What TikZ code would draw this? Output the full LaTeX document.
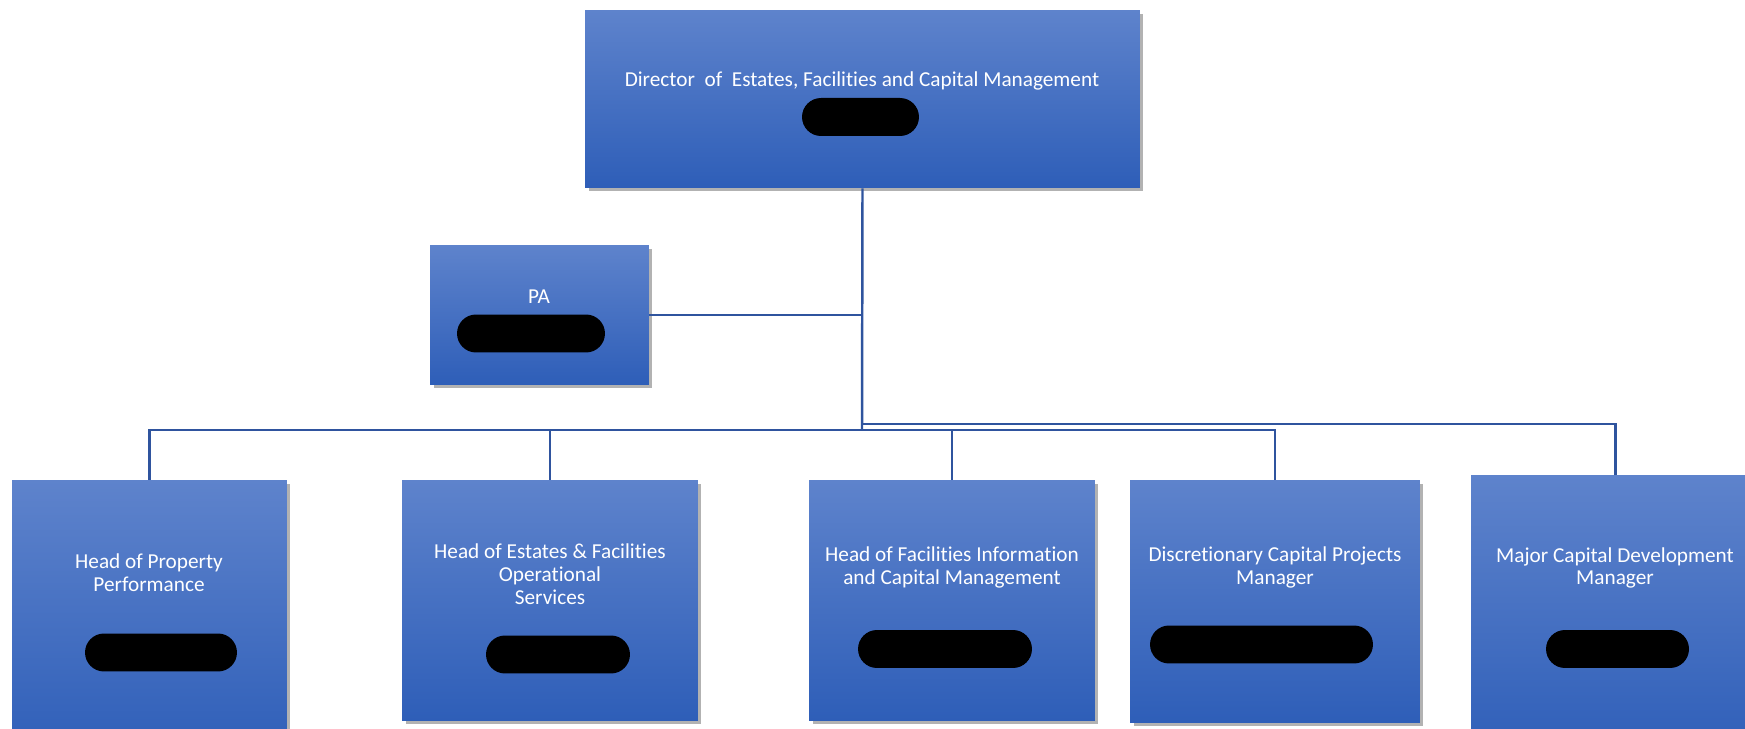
\documentclass[tikz,border=0pt]{standalone}
\usepackage{fontspec}
\setmainfont{Carlito}[Ligatures=NoCommon]
\usetikzlibrary{shadows}
\definecolor{boxtop}{RGB}{94,131,204}
\definecolor{boxbot}{RGB}{46,94,184}
\definecolor{linkblue}{RGB}{47,84,158}
\tikzset{
	orgbox/.style={rectangle, inner sep=0pt, top color=boxtop, bottom color=boxbot,
		drop shadow={shadow xshift=0.07cm, shadow yshift=-0.07cm, opacity=0.3, fill=black}},
	orgtext/.style={text=white, align=center, font=\fontsize{12.1}{13}\selectfont},
	pill/.style={rectangle, inner sep=0pt, fill=black, minimum height=0.76cm, rounded corners=0.38cm},
	link/.style={draw=linkblue, line width=1.4pt}
}

\begin{document}
\begin{tikzpicture}[x=0.02cm, y=-0.02cm]
		%%%%% START %%%%%
		\useasboundingbox (0, 0) rectangle (1745, 729);
		\clip (0, 0) rectangle (1745, 729);
		
		% boxes
		\node[orgbox, minimum width=11.1cm, minimum height=3.56cm] (dir) at (862.5, 99) {};
		\node[orgbox, minimum width=4.38cm, minimum height=2.8cm] (pa) at (539.5, 315) {};
		\node[orgbox, minimum width=5.5cm, minimum height=5.6cm] (prop) at (149.5, 620) {};
		\node[orgbox, minimum width=5.92cm, minimum height=4.82cm] (ops) at (550, 600.5) {};
		\node[orgbox, minimum width=5.72cm, minimum height=4.82cm] (info) at (952, 600.5) {};
		\node[orgbox, minimum width=5.8cm, minimum height=4.86cm] (disc) at (1275, 601.5) {};
		\node[orgbox, minimum width=5.78cm, minimum height=5.7cm] (major) at (1615.5, 617.5) {};
		
		% titles
		\node[orgtext] (dirtxt) at (862, 81) {Director\ \ of\ \ Estates, Facilities and Capital Management};
		\node[orgtext] (patxt) at (539, 297) {PA};
		\node[orgtext] (proptxt) at (149, 573) {Head of Property\\Performance};
		\node[orgtext] (opstxt) at (550, 574) {Head of Estates \& Facilities\\Operational\\Services};
		\node[orgtext] (infotxt) at (952, 567.5) {Head of Facilities Information\\and Capital Management};
		\node[orgtext] (disctxt) at (1275, 567.5) {Discretionary Capital Projects\\Manager};
		\node[orgtext] (majortxt) at (1615, 568) {Major Capital Development\\Manager};
		
		% redacted names
		\node[pill, minimum width=2.34cm] (dirpill) at (860.5, 117) {};
		\node[pill, minimum width=2.96cm] (papill) at (531, 333.5) {};
		\node[pill, minimum width=3.04cm] (proppill) at (161, 652.5) {};
		\node[pill, minimum width=2.88cm] (opspill) at (558, 654.5) {};
		\node[pill, minimum width=3.48cm] (infopill) at (945, 649) {};
		\node[pill, minimum width=4.46cm] (discpill) at (1261.5, 644.5) {};
		\node[pill, minimum width=2.86cm] (majorpill) at (1617.5, 649) {};
		
		% connectors
		\coordinate (bus) at (862, 430);
		\coordinate (bustop) at (862, 424);
		\draw[link] (dir.south) -- (bus);
		\draw[link] (pa.east) -- (dir.south |- pa.east);
		\draw[link] (prop.north) |- (bus) -| (disc.north);
		\draw[link] (ops.north) -- (ops.north |- bus);
		\draw[link] (info.north) -- (info.north |- bus);
		\draw[link] (bustop) -| (major.north);
		
		%%%%% END %%%%%
	\end{tikzpicture}
\end{document}
